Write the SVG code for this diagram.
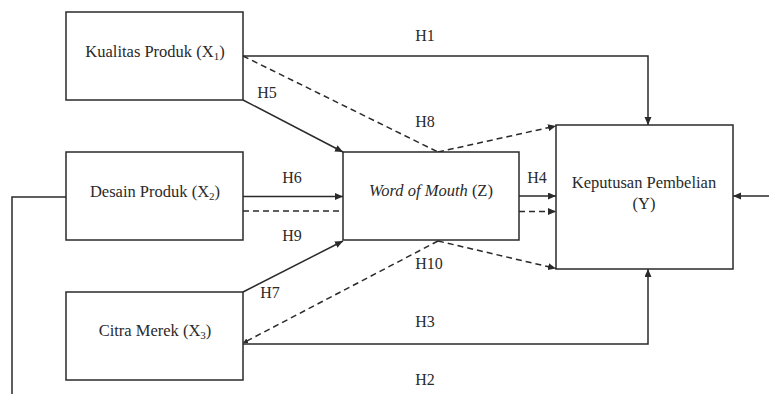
<svg xmlns="http://www.w3.org/2000/svg" width="769" height="394" viewBox="0 0 769 394">
<style>
.box{fill:#fff;stroke:#2a2a2a;stroke-width:1.5}
.t{font-family:"Liberation Serif","Times New Roman",serif;font-size:16.5px;fill:#2a2a2a;text-anchor:middle}
.lbl{font-family:"Liberation Serif","Times New Roman",serif;font-size:16px;fill:#2a2a2a;text-anchor:middle}
.sub{font-size:11px}
.ln{fill:none;stroke:#2a2a2a;stroke-width:1.5}
.ds{fill:none;stroke:#2a2a2a;stroke-width:1.5;stroke-dasharray:6 4}
</style>
<defs>
<marker id="ah" markerUnits="userSpaceOnUse" markerWidth="9" markerHeight="8" refX="8" refY="3.5" orient="auto">
<path d="M0,0 L8,3.5 L0,7 z" fill="#2a2a2a"/>
</marker>
<marker id="ahs" markerUnits="userSpaceOnUse" markerWidth="7" markerHeight="6" refX="5" refY="2.5" orient="auto">
<path d="M0,0 L5,2.5 L0,5 z" fill="#2a2a2a"/>
</marker>
</defs>
<g id="connectors">
<path class="ln" d="M243,56 H648 V125" marker-end="url(#ah)"/>
<path class="ln" d="M243,100 L343,152" marker-end="url(#ah)"/>
<path class="ds" d="M243,56 L438,152"/>
<path class="ds" d="M438,152 L556,126" marker-end="url(#ah)"/>
<path class="ln" d="M243,196.5 H343" marker-end="url(#ah)"/>
<path class="ds" d="M243,211 H343"/>
<path class="ln" d="M243,292 L343,241" marker-end="url(#ah)"/>
<path class="ds" d="M438,241 L243,343" marker-end="url(#ahs)"/>
<path class="ds" d="M438,241 L556,268.5" marker-end="url(#ah)"/>
<path class="ln" d="M519,196 H556" marker-end="url(#ah)"/>
<path class="ds" d="M519,211.5 H556" marker-end="url(#ah)"/>
<path class="ln" d="M243,344 H648 V269" marker-end="url(#ah)"/>
<path class="ln" d="M66,197 H12 V394"/>
<path class="ln" d="M769,196 H733" marker-end="url(#ah)"/>
<text class="lbl" x="425" y="40.5">H1</text>
<text class="lbl" x="267" y="97.5">H5</text>
<text class="lbl" x="425" y="126.5">H8</text>
<text class="lbl" x="292" y="183">H6</text>
<text class="lbl" x="537" y="183">H4</text>
<text class="lbl" x="292" y="240.5">H9</text>
<text class="lbl" x="270" y="298">H7</text>
<text class="lbl" x="429" y="269">H10</text>
<text class="lbl" x="425" y="326.5">H3</text>
<text class="lbl" x="425" y="385">H2</text>
</g>
<g id="x1">
<rect class="box" x="66" y="12" width="177" height="88"/>
<text class="t" x="155" y="57">Kualitas Produk (X<tspan class="sub" dy="3">1</tspan><tspan dy="-3">)</tspan></text>
</g>
<g id="x2">
<rect class="box" x="66" y="152" width="177" height="88"/>
<text class="t" x="155" y="197">Desain Produk (X<tspan class="sub" dy="3">2</tspan><tspan dy="-3">)</tspan></text>
</g>
<g id="x3">
<rect class="box" x="66" y="292" width="177" height="88"/>
<text class="t" x="155" y="335.5">Citra Merek (X<tspan class="sub" dy="3">3</tspan><tspan dy="-3">)</tspan></text>
</g>
<g id="z">
<rect class="box" x="343" y="152" width="176" height="88"/>
<text class="t" x="431" y="196"><tspan font-style="italic">Word of Mouth</tspan> (Z)</text>
</g>
<g id="y">
<rect class="box" x="556" y="125" width="177" height="144"/>
<text class="t" x="644" y="187.5">Keputusan Pembelian</text>
<text class="t" x="644" y="208.5">(Y)</text>
</g>
</svg>
